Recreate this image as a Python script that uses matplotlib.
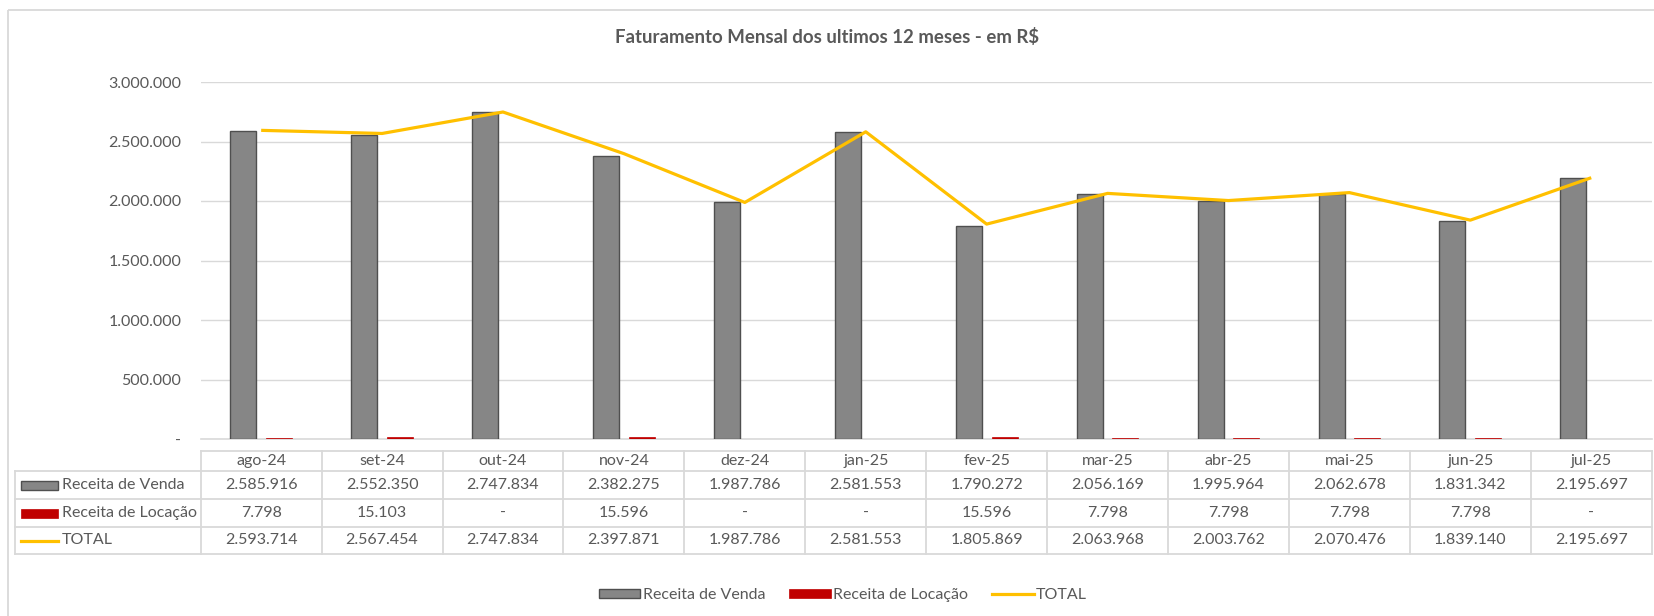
import matplotlib
matplotlib.use('Agg')
import matplotlib.pyplot as plt
import numpy as np
from matplotlib.patches import Rectangle
from matplotlib.lines import Line2D
from matplotlib.ticker import FuncFormatter, MultipleLocator

plt.rcParams['font.family'] = ['Lato', 'DejaVu Sans']

# ---------------- data ----------------
months = ['ago-24', 'set-24', 'out-24', 'nov-24', 'dez-24', 'jan-25',
          'fev-25', 'mar-25', 'abr-25', 'mai-25', 'jun-25', 'jul-25']
receita_venda = [2585916, 2552350, 2747834, 2382275, 1987786, 2581553,
                 1790272, 2056169, 1995964, 2062678, 1831342, 2195697]
receita_locacao = [7798, 15103, 0, 15596, 0, 0,
                   15596, 7798, 7798, 7798, 7798, 0]
total = [2593714, 2567454, 2747834, 2397871, 1987786, 2581553,
         1805869, 2063968, 2003762, 2070476, 1839140, 2195697]
series_names = ['Receita de Venda', 'Receita de Locação', 'TOTAL']
title = 'Faturamento Mensal dos ultimos 12 meses - em R$'

# ---------------- style ----------------
W, H = 1654, 616
TXT = '#595959'
GRID = '#d9d9d9'
GREY = '#868686'
GREY_EDGE = '#4f4f4f'
RED = '#C00000'
GOLD = '#FFC000'
FS = 11.5


def fmt(v):
    return '-' if v == 0 else f'{v:,.0f}'.replace(',', '.')


fig = plt.figure(figsize=(W / 100, H / 100), dpi=100)

# overlay axes in pixel coordinates (for border, table, legend keys)
ov = fig.add_axes([0, 0, 1, 1])
ov.set_xlim(0, W)
ov.set_ylim(H, 0)
ov.axis('off')
ov.patch.set_visible(False)

# plot area
px_left, px_right, px_top, px_bottom = 200.7, 1651.7, 82.0, 439.0
ax = fig.add_axes([px_left / W, 1 - px_bottom / H,
                   (px_right - px_left) / W, (px_bottom - px_top) / H])
ax.patch.set_visible(False)

n = len(months)
x = np.arange(n)
bw = 0.215
off = 0.148
ax.bar(x - off, receita_venda, width=bw, color=GREY, edgecolor=GREY_EDGE,
       linewidth=1.0, zorder=3, label=series_names[0])
ax.bar(x + off, receita_locacao, width=bw, color=RED, edgecolor=RED,
       linewidth=0.5, zorder=3, label=series_names[1])
ax.plot(x, total, color=GOLD, lw=2.3, zorder=4, label=series_names[2],
        solid_capstyle='butt')

ax.set_xlim(-0.5, n - 0.5)
ax.set_ylim(0, 3000000)
ax.yaxis.set_major_locator(MultipleLocator(500000))
ax.yaxis.set_major_formatter(FuncFormatter(lambda v, p: fmt(int(round(v)))))
ax.grid(axis='y', color=GRID, lw=1.0, zorder=0)
for s in ['top', 'right', 'left']:
    ax.spines[s].set_visible(False)
ax.spines['bottom'].set_color(GRID)
ax.spines['bottom'].set_linewidth(1.2)
ax.set_xticks([])
ax.tick_params(axis='y', length=0, pad=14.0, labelsize=FS, labelcolor=TXT)

# title
fig.text(0.5, 1 - 37 / H, title, ha='center', va='center', fontsize=13.4,
         fontweight='bold', color=TXT)

# outer chart border
ov.add_patch(Rectangle((7.7, 9.5), 1800, 800, fill=False, ec=GRID, lw=1.3))

# ---------------- data table ----------------
colw = (px_right - px_left) / n
col_edges = [px_left + i * colw for i in range(n + 1)]
row_edges = [450.5, 471.0, 499.0, 527.0, 554.0]
lab_left = 15.0
lc = dict(color=GRID, lw=1.3)

ov.plot([px_left, px_right], [row_edges[0]] * 2, **lc)
for yy in row_edges[1:]:
    ov.plot([lab_left, px_right], [yy, yy], **lc)
for xx in col_edges:
    ov.plot([xx, xx], [row_edges[0], row_edges[-1]], **lc)
ov.plot([lab_left, lab_left], [row_edges[1], row_edges[-1]], **lc)

for i, m in enumerate(months):
    cx = (col_edges[i] + col_edges[i + 1]) / 2
    ov.text(cx, (row_edges[0] + row_edges[1]) / 2, m, ha='center',
            va='center', fontsize=FS, color=TXT)

table_rows = [receita_venda, receita_locacao, total]
for r, vals in enumerate(table_rows):
    cy = (row_edges[r + 1] + row_edges[r + 2]) / 2
    for i, v in enumerate(vals):
        cx = (col_edges[i] + col_edges[i + 1]) / 2
        ov.text(cx, cy, fmt(v), ha='center', va='center', fontsize=FS,
                color=TXT)
    # legend key + label
    if r == 0:
        ov.add_patch(Rectangle((21, cy - 4.5), 37, 9, fc=GREY, ec=GREY_EDGE,
                               lw=1.0))
    elif r == 1:
        ov.add_patch(Rectangle((21, cy - 4.5), 37, 9, fc=RED, ec=RED, lw=0.5))
    else:
        ov.plot([21, 58], [cy, cy], color=GOLD, lw=2.3)
    ov.text(62, cy, series_names[r], ha='left', va='center', fontsize=FS,
            color=TXT)

# ---------------- bottom legend ----------------
handles = [Rectangle((0, 0), 1, 1, fc=GREY, ec=GREY_EDGE, lw=1.0),
           Rectangle((0, 0), 1, 1, fc=RED, ec=RED, lw=0.5),
           Line2D([0], [0], color=GOLD, lw=2.3)]
fig.legend(handles, series_names, loc='center', ncol=3, frameon=False,
           bbox_to_anchor=(843 / W, 1 - 595 / H), fontsize=FS,
           labelcolor=TXT, handlelength=2.6, handleheight=0.55,
           handletextpad=0.15, columnspacing=1.5)

fig.savefig('out.png', dpi=100)
